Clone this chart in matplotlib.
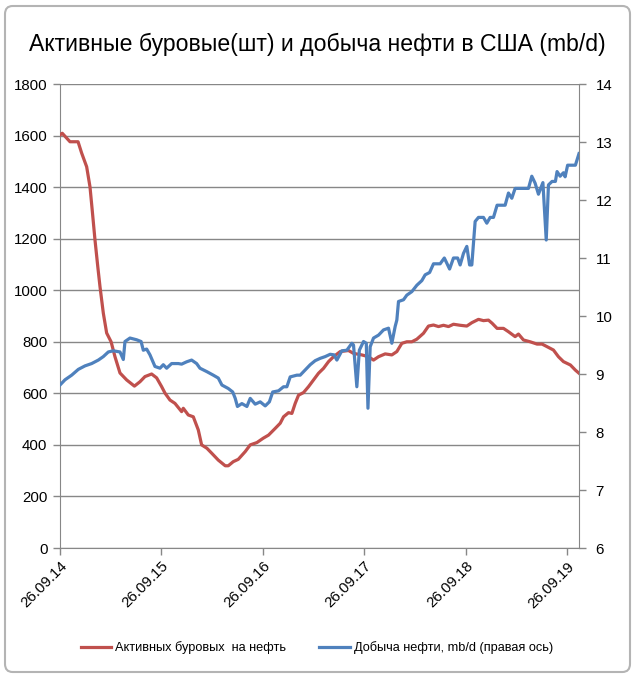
import matplotlib
matplotlib.use("Agg")
import matplotlib.pyplot as plt
import matplotlib.dates as mdates
from matplotlib.patches import FancyBboxPatch
from matplotlib.lines import Line2D
import pandas as pd

plt.rcParams['font.family'] = ['Liberation Sans', 'DejaVu Sans']

title = "Активные буровые(шт) и добыча нефти в США (mb/d)"
rig_label = "Активных буровых  на нефть"
prod_label = "Добыча нефти, mb/d (правая ось)"

rig_dates = ["2014-09-26", "2014-10-04", "2014-11-01", "2014-11-30", "2014-12-13", "2014-12-31",
             "2015-01-12", "2015-01-20", "2015-01-30", "2015-02-09", "2015-02-17", "2015-03-01",
             "2015-03-13", "2015-03-29", "2015-04-12", "2015-04-30", "2015-05-24", "2015-06-21",
             "2015-07-11", "2015-07-29", "2015-08-22", "2015-09-09", "2015-09-27", "2015-10-09",
             "2015-10-27", "2015-11-14", "2015-12-08", "2015-12-14", "2016-01-01", "2016-01-19",
             "2016-02-06", "2016-02-18", "2016-03-08", "2016-03-26", "2016-04-18", "2016-05-13",
             "2016-05-24", "2016-06-11", "2016-06-29", "2016-07-24", "2016-08-11", "2016-09-04",
             "2016-09-27", "2016-10-16", "2016-11-09", "2016-11-27", "2016-12-09", "2016-12-27",
             "2017-01-08", "2017-01-20", "2017-02-01", "2017-02-19", "2017-03-09", "2017-03-27",
             "2017-04-14", "2017-05-02", "2017-05-20", "2017-06-07", "2017-07-01", "2017-07-31",
             "2017-08-18", "2017-09-17", "2017-10-11", "2017-10-29", "2017-11-16", "2017-12-10",
             "2018-01-03", "2018-01-21", "2018-02-08", "2018-02-26", "2018-03-16", "2018-04-03",
             "2018-04-27", "2018-05-15", "2018-06-02", "2018-06-20", "2018-07-08", "2018-07-26",
             "2018-08-13", "2018-09-06", "2018-09-30", "2018-10-18", "2018-11-11", "2018-11-29",
             "2018-12-17", "2018-12-30", "2019-01-17", "2019-02-09", "2019-02-27", "2019-03-23",
             "2019-04-04", "2019-04-22", "2019-05-16", "2019-06-10", "2019-06-28", "2019-07-16",
             "2019-08-08", "2019-08-26", "2019-09-13", "2019-10-08", "2019-10-26", "2019-11-08"]
rig_values = [1602, 1609, 1576, 1576, 1532, 1479,
              1401, 1311, 1195, 1092, 1014, 911,
              834, 800, 742, 679, 652, 628,
              645, 665, 675, 660, 626, 601,
              574, 561, 529, 542, 516, 509,
              458, 400, 387, 367, 341, 319,
              319, 335, 344, 374, 400, 409,
              426, 438, 464, 484, 509, 525,
              522, 561, 593, 603, 626, 652,
              678, 697, 723, 742, 762, 766,
              755, 749, 742, 729, 742, 753,
              749, 762, 794, 800, 800, 810,
              833, 861, 865, 859, 864, 859,
              868, 864, 861, 874, 887, 882,
              884, 872, 852, 852, 839, 820,
              830, 807, 800, 791, 791, 781,
              768, 742, 723, 710, 690, 678]

prod_dates = ["2014-09-26", "2014-10-14", "2014-11-07", "2014-12-01", "2014-12-25", "2015-01-18",
              "2015-02-11", "2015-03-01", "2015-03-19", "2015-04-06", "2015-04-30", "2015-05-12",
              "2015-05-18", "2015-06-05", "2015-06-29", "2015-07-15", "2015-07-23", "2015-08-04",
              "2015-08-16", "2015-09-03", "2015-09-21", "2015-10-03", "2015-10-15", "2015-11-02",
              "2015-11-26", "2015-12-08", "2015-12-26", "2016-01-13", "2016-01-31", "2016-02-12",
              "2016-03-08", "2016-03-31", "2016-04-18", "2016-05-01", "2016-05-24", "2016-06-09",
              "2016-06-18", "2016-06-26", "2016-07-12", "2016-07-30", "2016-08-11", "2016-08-29",
              "2016-09-16", "2016-10-04", "2016-10-19", "2016-10-31", "2016-11-21", "2016-12-09",
              "2016-12-21", "2017-01-02", "2017-01-26", "2017-02-07", "2017-02-25", "2017-03-15",
              "2017-04-02", "2017-04-20", "2017-05-08", "2017-05-26", "2017-06-09", "2017-06-19",
              "2017-07-07", "2017-07-25", "2017-08-12", "2017-08-18", "2017-08-30", "2017-09-08",
              "2017-09-23", "2017-10-03", "2017-10-09", "2017-10-17", "2017-10-29", "2017-11-16",
              "2017-12-04", "2017-12-22", "2018-01-03", "2018-01-15", "2018-01-21", "2018-01-27",
              "2018-02-14", "2018-02-26", "2018-03-16", "2018-04-03", "2018-04-21", "2018-05-03",
              "2018-05-19", "2018-06-02", "2018-06-26", "2018-07-11", "2018-07-30", "2018-08-13",
              "2018-08-28", "2018-09-06", "2018-09-18", "2018-09-30", "2018-10-10", "2018-10-18",
              "2018-10-30", "2018-11-11", "2018-11-29", "2018-12-11", "2018-12-23", "2019-01-04",
              "2019-01-17", "2019-02-15", "2019-02-27", "2019-03-11", "2019-03-23", "2019-04-22",
              "2019-05-10", "2019-05-22", "2019-06-03", "2019-06-15", "2019-07-01", "2019-07-13",
              "2019-07-21", "2019-08-03", "2019-08-15", "2019-08-21", "2019-09-01", "2019-09-13",
              "2019-09-19", "2019-09-28", "2019-10-26", "2019-11-08"]
prod_values = [8.81, 8.90, 8.98, 9.08, 9.14, 9.18,
               9.24, 9.30, 9.38, 9.40, 9.38, 9.25,
               9.56, 9.62, 9.59, 9.56, 9.41, 9.43,
               9.33, 9.13, 9.10, 9.16, 9.10, 9.18,
               9.18, 9.17, 9.21, 9.24, 9.18, 9.10,
               9.04, 8.98, 8.93, 8.81, 8.75, 8.69,
               8.58, 8.44, 8.49, 8.44, 8.58, 8.48,
               8.52, 8.45, 8.52, 8.69, 8.71, 8.78,
               8.78, 8.95, 8.98, 8.98, 9.07, 9.16,
               9.23, 9.27, 9.30, 9.34, 9.33, 9.24,
               9.40, 9.41, 9.53, 9.50, 8.78, 9.41,
               9.56, 9.53, 8.41, 9.47, 9.62, 9.67,
               9.76, 9.79, 9.53, 9.82, 9.93, 10.25,
               10.28, 10.36, 10.42, 10.53, 10.61, 10.71,
               10.75, 10.90, 10.90, 11.00, 10.81, 11.00,
               11.00, 10.88, 11.08, 11.20, 10.88, 10.88,
               11.63, 11.70, 11.70, 11.60, 11.70, 11.70,
               11.91, 11.91, 12.12, 12.03, 12.20, 12.20,
               12.20, 12.41, 12.29, 12.10, 12.30, 11.31,
               12.26, 12.32, 12.32, 12.49, 12.41, 12.47,
               12.40, 12.60, 12.60, 12.80]

left_ticks = [0, 200, 400, 600, 800, 1000, 1200, 1400, 1600, 1800]
right_ticks = [6, 7, 8, 9, 10, 11, 12, 13, 14]
x_ticks = ["2014-09-26", "2015-09-26", "2016-09-26", "2017-09-26", "2018-09-26", "2019-09-26"]
x_start, x_end = "2014-09-26", "2019-11-08"

RED = "#C0504D"
BLUE = "#4F81BD"
GRID = "#878787"

W, H = 634, 678
fig = plt.figure(figsize=(W / 100, H / 100), dpi=100)
fig.patch.set_facecolor("white")

# chart frame (behind everything)
frame = FancyBboxPatch((5 / W, 6 / H), 625 / W, 666 / H,
                       boxstyle="round,pad=0,rounding_size=0.012",
                       transform=fig.transFigure, facecolor="white",
                       edgecolor="#B4B4B4", linewidth=1.5, zorder=-10)
fig.patches.append(frame)

ax = fig.add_axes([60 / W, 1 - 548 / H, (579 - 60) / W, (548 - 84) / H])
ax.set_zorder(1)
ax.set_facecolor("none")
ax2 = ax.twinx()
ax2.set_zorder(2)
ax2.set_facecolor("none")

rd = pd.to_datetime(rig_dates)
pdd = pd.to_datetime(prod_dates)

ax.plot(rd, rig_values, color=RED, lw=2.3, solid_joinstyle="round", zorder=3)
ax2.plot(pdd, prod_values, color=BLUE, lw=2.3, solid_joinstyle="round", zorder=3)

ax.set_ylim(0, 1800)
ax.set_yticks(left_ticks)
ax2.set_ylim(6, 14)
ax2.set_yticks(right_ticks)
ax.set_xlim(pd.Timestamp(x_start), pd.Timestamp(x_end))
ax.set_xticks(pd.to_datetime(x_ticks))
ax.xaxis.set_major_formatter(mdates.DateFormatter("%d.%m.%y"))

ax.grid(axis="y", color=GRID, lw=1.0)
ax.set_axisbelow(True)
for a in (ax, ax2):
    for s in a.spines.values():
        s.set_visible(False)
ax.spines["left"].set_visible(True)
ax.spines["left"].set_color(GRID)
ax.spines["bottom"].set_visible(True)
ax.spines["bottom"].set_color(GRID)
ax2.spines["right"].set_visible(True)
ax2.spines["right"].set_color(GRID)

ax.tick_params(axis="y", length=5, width=1, color=GRID, labelsize=10.8, pad=4)
ax2.tick_params(axis="y", length=5, width=1, color=GRID, labelsize=10.8, pad=7)
ax.tick_params(axis="x", length=5, width=1, color=GRID, labelsize=10.8, pad=3)
for lab in ax.get_xticklabels():
    lab.set_rotation(45)
    lab.set_ha("right")
    lab.set_va("top")
    lab.set_rotation_mode("anchor")

fig.text(0.5, 1 - 44 / H, title, ha="center", va="center", fontsize=16.6)

handles = [Line2D([], [], color=RED, lw=2.3), Line2D([], [], color=BLUE, lw=2.3)]
fig.legend(handles, [rig_label, prod_label], loc="center",
           bbox_to_anchor=(0.5, 1 - 648 / H), ncol=2, frameon=False,
           fontsize=9.2, handlelength=2.4, handletextpad=0.3, columnspacing=2.6)

fig.savefig("out.png", dpi=100)
